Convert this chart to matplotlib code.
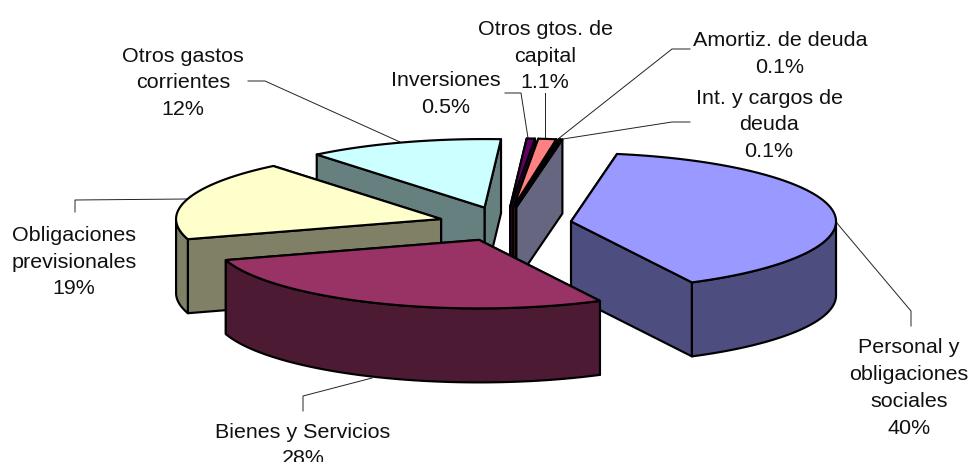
import numpy as np
import matplotlib
matplotlib.use('Agg')
import matplotlib.pyplot as plt
from matplotlib.patches import Polygon

categories = ['Personal y obligaciones sociales', 'Bienes y Servicios', 'Obligaciones previsionales',
              'Otros gastos corrientes', 'Inversiones', 'Otros gtos. de capital',
              'Amortiz. de deuda', 'Int. y cargos de deuda']
values = [40, 28, 19, 12, 0.5, 1.1, 0.1, 0.1]
top_colors = ['#9999FF', '#993366', '#FFFFCC', '#CCFFFF', '#660066', '#FF8080', '#0066CC', '#CCCCFF']
side_colors = ['#4D4D80', '#4D1A33', '#808066', '#668080', '#330033', '#804040', '#003366', '#666680']

label_text = ['Personal y\nobligaciones\nsociales\n40%', 'Bienes y Servicios\n28%',
              'Obligaciones\nprevisionales\n19%', 'Otros gastos\ncorrientes\n12%',
              'Inversiones\n0.5%', 'Otros gtos. de\ncapital\n1.1%',
              'Amortiz. de deuda\n0.1%', 'Int. y cargos de\ndeuda\n0.1%']
label_x = [909, 303, 74, 183, 446, 545, 780, 769]
label_y = [388, 445.5, 262, 83, 94, 56, 54, 125]

# pie geometry in pixels of the picture
cx, cy = 505, 224
rx, ry = 265, 68.5
depth = 74
explode = 0.252
start = 80

fig = plt.figure(figsize=(9.71, 4.62), dpi=100)
ax = fig.add_axes([0, 0, 1, 1])
ax.set_xlim(0, 971)
ax.set_ylim(462, 0)
ax.axis('off')

fracs = np.array(values) / np.sum(values) * 360
ends = start - np.cumsum(fracs)
starts = ends + fracs


def rim(t):
    r = np.radians(t)
    return rx * np.cos(r), -ry * np.sin(r)


def draw_slice(i):
    mid = (starts[i] + ends[i]) / 2
    ox, oy = rim(mid)
    ax0 = cx + explode * ox
    ay0 = cy + explode * oy
    kw = dict(edgecolor='black', linewidth=1.55, joinstyle='round')

    # the two cut faces, the one further back first
    faces = []
    for t in (starts[i], ends[i]):
        dx, dy = rim(t)
        faces.append((ay0 + dy, ax0 + dx))
    faces.sort()
    for ey, ex in faces:
        ax.add_patch(Polygon([(ax0, ay0), (ex, ey), (ex, ey + depth), (ax0, ay0 + depth)],
                             facecolor=side_colors[i], **kw))

    # outer wall, only the part on the front half
    ts = np.linspace(starts[i], ends[i], 200)
    ts = ts[(np.mod(ts, 360) >= 180)]
    if len(ts) > 1:
        dx, dy = rim(ts)
        upper = np.column_stack([ax0 + dx, ay0 + dy])
        lower = np.column_stack([ax0 + dx, ay0 + dy + depth])
        ax.add_patch(Polygon(np.vstack([upper, lower[::-1]]), facecolor=side_colors[i], **kw))

    # top face
    ts = np.linspace(starts[i], ends[i], 200)
    dx, dy = rim(ts)
    pts = np.vstack([[ax0, ay0], np.column_stack([ax0 + dx, ay0 + dy])])
    ax.add_patch(Polygon(pts, facecolor=top_colors[i], **kw))


for i in [3, 4, 5, 6, 7, 2, 0, 1]:
    draw_slice(i)

# leader lines
leaders = [
    ([836, 911, 911], [222, 311, 326]),
    ([372, 303, 303], [378, 396, 411]),
    ([75, 75, 187], [212, 200, 199]),
    ([248, 265, 400], [81, 81, 142]),
    ([505, 521, 528], [93, 93, 138]),
    ([545, 545], [93, 138]),
    ([690, 672, 558], [49, 49, 139]),
    ([690, 672, 563], [122, 122, 139]),
]
for xs, ys in leaders:
    ax.plot(xs, ys, color='#222222', linewidth=0.7, zorder=0.5)

for i in range(len(categories)):
    ax.text(label_x[i], label_y[i], label_text[i], ha='center', va='center', multialignment='center',
            fontfamily='Liberation Sans', fontsize=15.45, color='#111111', linespacing=1.52)

fig.savefig('out.png', dpi=100, facecolor='white')
